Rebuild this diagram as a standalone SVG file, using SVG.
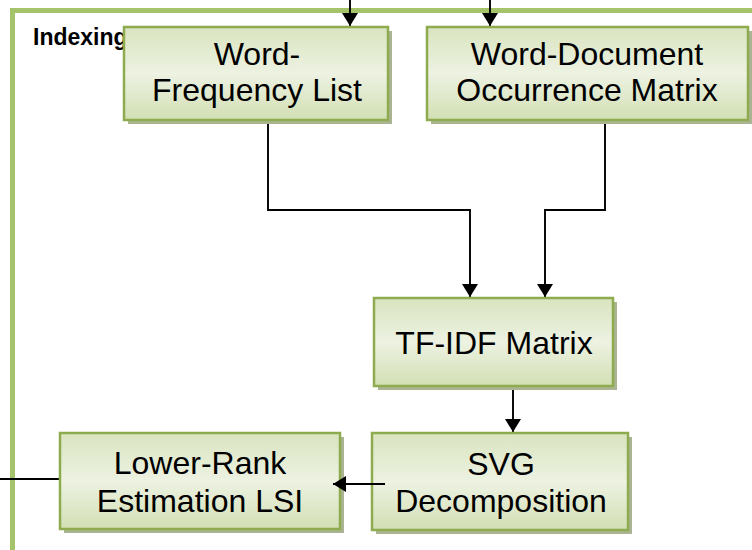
<svg xmlns="http://www.w3.org/2000/svg" width="752" height="550" viewBox="0 0 752 550">
<style>
.frame{fill:none;stroke:#a4c36a;stroke-width:5}
.box{fill:url(#g);stroke:#8eab50;stroke-width:2.5}
.shadow{fill:#aab493}
.t{font-family:"Liberation Sans",Arial,sans-serif;font-size:32px;fill:#000;text-anchor:middle}
.lbl{font-family:"Liberation Sans",Arial,sans-serif;font-size:23px;font-weight:bold;fill:#000}
.c{fill:none;stroke:#000;stroke-width:1.9}
</style>
<defs>
<linearGradient id="g" x1="0" y1="0" x2="0" y2="1">
<stop offset="0" stop-color="#d9e4bf"/>
<stop offset="0.5" stop-color="#edf2e2"/>
<stop offset="1" stop-color="#d2dfb3"/>
</linearGradient>
<marker id="a" viewBox="0 0 13 16" refX="13" refY="8" markerWidth="13" markerHeight="16" markerUnits="userSpaceOnUse" orient="auto">
<path d="M0,0 L13,8 L0,16 z" fill="#000"/>
</marker>
</defs>
<rect width="752" height="550" fill="#fff"/>
<g id="indexing">
<rect class="frame" x="12.5" y="10.5" width="760" height="560"/>
<text class="lbl" x="33" y="45">Indexing</text>
</g>
<g id="connectors">
<line class="c" x1="350" y1="0" x2="350" y2="26" marker-end="url(#a)"/>
<line class="c" x1="490" y1="0" x2="490" y2="26" marker-end="url(#a)"/>
<path class="c" d="M268,120 V210 H470 V297" marker-end="url(#a)"/>
<path class="c" d="M605,120 V210 H545 V297" marker-end="url(#a)"/>
<line class="c" x1="513" y1="387" x2="513" y2="432" marker-end="url(#a)"/>
<line class="c" x1="0" y1="479" x2="60" y2="479"/>
</g>
<g id="wordfreq">
<rect class="shadow" x="128" y="31" width="264" height="93"/>
<rect class="box" x="124" y="27" width="264" height="93"/>
<text class="t" x="257" y="65">Word-</text>
<text class="t" x="257" y="101">Frequency List</text>
</g>
<g id="worddoc">
<rect class="shadow" x="431" y="31" width="321" height="93"/>
<rect class="box" x="427" y="27" width="321" height="93"/>
<text class="t" x="587" y="65">Word-Document</text>
<text class="t" x="587" y="101">Occurrence Matrix</text>
</g>
<g id="tfidf">
<rect class="shadow" x="378" y="302" width="239" height="88"/>
<rect class="box" x="374" y="298" width="239" height="88"/>
<text class="t" x="494" y="354">TF-IDF Matrix</text>
</g>
<g id="svgdec">
<rect class="shadow" x="376" y="437" width="256" height="97"/>
<rect class="box" x="372" y="433" width="256" height="97"/>
<text class="t" x="501" y="475">SVG</text>
<text class="t" x="501" y="512">Decomposition</text>
</g>
<g id="lsi">
<rect class="shadow" x="64" y="437" width="280" height="96"/>
<rect class="box" x="60" y="433" width="280" height="96"/>
<text class="t" x="200" y="474">Lower-Rank</text>
<text class="t" x="200" y="512">Estimation LSI</text>
</g>
<g id="connectors-top">
<line class="c" x1="385" y1="484" x2="333" y2="484" marker-end="url(#a)"/>
</g>
</svg>
